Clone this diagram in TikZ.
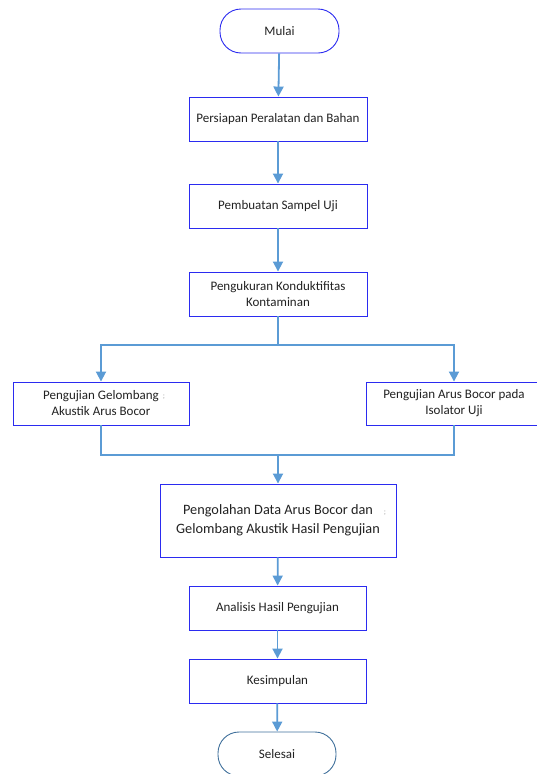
\documentclass[tikz,border=0pt]{standalone}
\usepackage{fontspec}
\setmainfont{Carlito}
\usetikzlibrary{arrows.meta}
\definecolor{boxblue}{HTML}{2B2BF0}
\definecolor{linkblue}{HTML}{5B9BD5}
\definecolor{endblue}{HTML}{41719C}
\definecolor{txt}{HTML}{222222}
\tikzset{
  stepbox/.style={draw=boxblue, line width=0.9pt, fill=white, text=txt,
    font=\fontsize{13}{16}\selectfont, align=center, inner sep=0pt,
    minimum width=178pt, minimum height=44pt},
  termbox/.style={stepbox, rounded corners=21pt, minimum width=119pt},
  link/.style={draw=linkblue, line width=1.8pt},
  arr/.style={link, -{Triangle[width=10pt,length=10pt]}},
  stray/.style={text=gray!70, font=\fontsize{8}{8}\selectfont, inner sep=0pt}
}
\begin{document}
\begin{tikzpicture}[x=1pt,y=-1pt]
\useasboundingbox (0,0) rectangle (537,774);
\node[termbox] (mulai) at (279.5,31) {Mulai};
\node[stepbox] (b1) at (278,119) {Persiapan Peralatan dan Bahan};
\node[stepbox] (b2) at (278,206) {Pembuatan Sampel Uji};
\node[stepbox] (b3) at (278,294) {Pengukuran Konduktifitas\\Kontaminan};
\node[stepbox, minimum width=176pt, minimum height=43pt] (left) at (101,403.5) {Pengujian Gelombang\\Akustik Arus Bocor};
\node[stepbox, minimum width=176pt, minimum height=43pt] (right) at (454,403.5) {Pengujian Arus Bocor pada\\Isolator Uji};
\node[stepbox, minimum width=236pt, minimum height=73pt, font=\fontsize{14.3}{19}\selectfont] (olah) at (278,520.5) {Pengolahan Data Arus Bocor dan\\Gelombang Akustik Hasil Pengujian};
\node[stepbox, minimum width=177pt] (anal) at (277.5,608) {Analisis Hasil Pengujian};
\node[stepbox, minimum width=177pt] (kes) at (277.5,681) {Kesimpulan};
\node[termbox, draw=endblue, minimum width=118pt] (sel) at (277,754) {Selesai};
\node[stray] (s1) at (164,397) {;};
\node[stray] (s2) at (385,513) {;};
\coordinate (split) at (278,345);
\coordinate (merge) at (278,455);
\draw[arr] (mulai) -- (b1);
\draw[arr] (b1) -- (b2);
\draw[arr] (b2) -- (b3);
\draw[link] (b3) -- (split);
\draw[arr] (split) -| (left);
\draw[arr] (split) -| (right);
\draw[link] (left) |- (merge);
\draw[link] (right) |- (merge);
\draw[arr] (merge) -- (olah);
\draw[arr] (olah) -- (anal);
\draw[arr] (anal) -- (kes);
\draw[arr] (kes) -- (sel);
\end{tikzpicture}
\end{document}
